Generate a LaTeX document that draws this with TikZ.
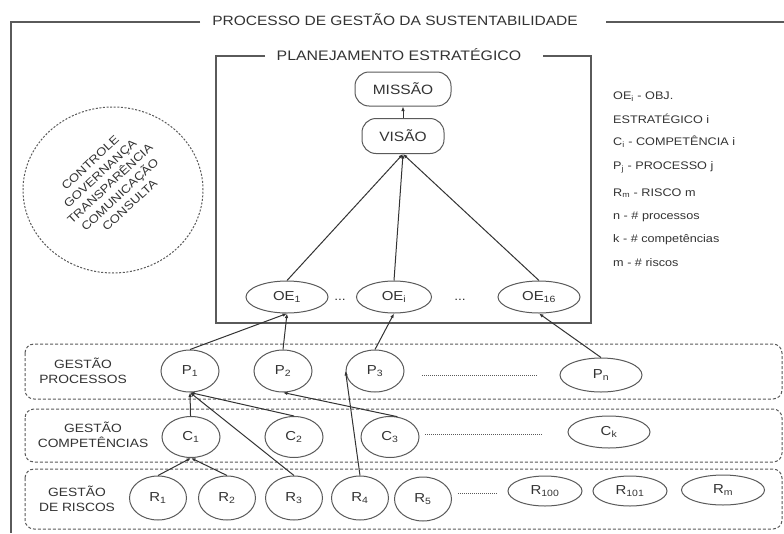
\documentclass[tikz,border=0pt]{standalone}
\usepackage{fontspec}
\setmainfont{Liberation Sans}[FakeStretch=1.15]
\usetikzlibrary{shapes.geometric,arrows.meta}

\definecolor{ink}{HTML}{333333}
\definecolor{rule}{HTML}{5A5A5A}

\begin{document}
\begin{tikzpicture}[x=1pt,y=-1pt,
  every node/.style={text=ink},
  frameline/.style={draw=rule, line width=1.1pt},
  oval/.style={ellipse, draw=rule, line width=1pt, inner sep=0pt,
    font=\fontsize{13}{13}\selectfont},
  rbox/.style={rectangle, rounded corners=14pt, draw=rule, line width=1pt,
    inner sep=0pt, font=\fontsize{13.5}{13.5}\selectfont},
  small/.style={oval, minimum width=58pt, minimum height=42pt},
  wide/.style={oval, minimum width=82pt, minimum height=32pt},
  layer/.style={draw=rule, line width=1pt, dash pattern=on 3pt off 2pt,
    rounded corners=9pt},
  link/.style={draw=ink, line width=1pt, -{Latex[length=4.5pt,width=3.5pt]}},
  dotrow/.style={draw=rule, line width=0.6pt, dash pattern=on 1pt off 1pt},
  rowlabel/.style={align=center, font=\fontsize{12}{15}\selectfont},
  legend/.style={anchor=west, inner sep=0pt, font=\fontsize{11}{11}\selectfont}]

\useasboundingbox (0,0) rectangle (784,533);
\fill[white] (0,0) rectangle (784,533);

% outer frame of the whole process
\node[font=\fontsize{13.5}{13.5}\selectfont] (title) at (395,20)
  {PROCESSO DE GESTÃO DA SUSTENTABILIDADE};
\draw[frameline] (200,22) -- (11,22) -- (11,533);
\draw[frameline] (606,22) -- (784,22);

% strategic planning block
\node[font=\fontsize{13.8}{13.8}\selectfont] (plan) at (399,55) {PLANEJAMENTO ESTRATÉGICO};
\draw[frameline] (265,56) -- (216,56) -- (216,323) -- (591,323) -- (591,56) -- (543,56);

\node[rbox, minimum width=96pt, minimum height=34pt] (missao) at (403,89) {MISSÃO};
\node[rbox, minimum width=82pt, minimum height=35pt] (visao) at (403,136) {VISÃO};

\node[wide] (oe1) at (287,297) {OE\textsubscript{1}};
\node[oval, minimum width=75pt, minimum height=32pt] (oei) at (394,297) {OE\textsubscript{i}};
\node[wide] (oe16) at (539,297) {OE\textsubscript{16}};
\node[font=\fontsize{12}{12}\selectfont] (gap1) at (340,300) {...};
\node[font=\fontsize{12}{12}\selectfont] (gap2) at (460,300) {...};

% governance principles
\draw[draw=rule, line width=1pt, dash pattern=on 2pt off 1.6pt]
  (113,190) ellipse [x radius=90pt, y radius=83pt];
\node[rotate=43, align=center, font=\fontsize{11.5}{14.5}\selectfont] (principles) at (110,184)
  {CONTROLE\\GOVERNANÇA\\TRANSPARÊNCIA\\COMUNICAÇÃO\\CONSULTA};

% legend
\node[legend] (lg1) at (613,97)  {OE\textsubscript{i} - OBJ.};
\node[legend] (lg2) at (613,119) {ESTRATÉGICO i};
\node[legend] (lg3) at (613,142) {C\textsubscript{i} - COMPETÊNCIA i};
\node[legend] (lg4) at (613,167) {P\textsubscript{j} - PROCESSO j};
\node[legend] (lg5) at (613,193) {R\textsubscript{m} - RISCO m};
\node[legend] (lg6) at (613,217) {n - \# processos};
\node[legend] (lg7) at (613,240) {k - \# competências};
\node[legend] (lg8) at (613,263) {m - \# riscos};

% management layers
\draw[layer] (25,344) rectangle (782,399);
\draw[layer] (25,409) rectangle (782,462);
\draw[layer] (25,469) rectangle (782,529);

\node[rowlabel] (lproc) at (83,371) {GESTÃO\\PROCESSOS};
\node[rowlabel] (lcomp) at (93,435) {GESTÃO\\COMPETÊNCIAS};
\node[rowlabel] (lrisk) at (77,499) {GESTÃO\\DE RISCOS};

% processes
\node[small] (p1) at (190,371) {P\textsubscript{1}};
\node[small] (p2) at (283,371) {P\textsubscript{2}};
\node[small] (p3) at (375,371) {P\textsubscript{3}};
\node[oval, minimum width=82pt, minimum height=34pt] (pn) at (601,375) {P\textsubscript{n}};
\draw[dotrow] (422,375) -- (537,375);

% competences
\node[small, minimum height=41pt] (c1) at (191,437) {C\textsubscript{1}};
\node[small, minimum height=41pt] (c2) at (294,437) {C\textsubscript{2}};
\node[small, minimum height=41pt] (c3) at (390,437) {C\textsubscript{3}};
\node[wide] (ck) at (609,432) {C\textsubscript{k}};
\draw[dotrow] (425,434) -- (542,434);

% risks
\node[small, minimum width=57pt, minimum height=44pt] (r1) at (158,498) {R\textsubscript{1}};
\node[small, minimum width=57pt, minimum height=44pt] (r2) at (227,498) {R\textsubscript{2}};
\node[small, minimum width=57pt, minimum height=44pt] (r3) at (294,498) {R\textsubscript{3}};
\node[small, minimum width=57pt, minimum height=44pt] (r4) at (360,498) {R\textsubscript{4}};
\node[small, minimum width=57pt, minimum height=44pt] (r5) at (423,499) {R\textsubscript{5}};
\node[oval, minimum width=74pt, minimum height=30pt] (r100) at (545,491) {R\textsubscript{100}};
\node[oval, minimum width=74pt, minimum height=30pt] (r101) at (630,491) {R\textsubscript{101}};
\node[oval, minimum width=83pt, minimum height=30pt] (rm) at (723,490) {R\textsubscript{m}};
\draw[dotrow] (458,493) -- (498,493);

% links inside planning
\draw[link] (visao) -- (missao);
\draw[link] (oe1.north) -- (visao.south);
\draw[link] (oei.north) -- (visao.south);
\draw[link] (oe16.north) -- (visao.south);

% processes feed objectives
\draw[link] (p1.north) -- (oe1.south);
\draw[link] (p2.north) -- (oe1.south);
\draw[link] (p3.north) -- (oei.south);
\draw[link] (pn.north) -- (oe16.south);

% competences and risks feed processes
\draw[link] (c1) -- (p1.south);
\draw[link] (c2.north) -- (p1.south);
\draw[link] (r3.north) -- (p1.south);
\draw[link] (c3.70) -- (p2.south);
\draw[link] (r4.north) -- (p3.west);

% risks feed competences
\draw[link] (r1.north) -- (c1.south);
\draw[link] (r2.north) -- (c1.south);
\end{tikzpicture}
\end{document}
